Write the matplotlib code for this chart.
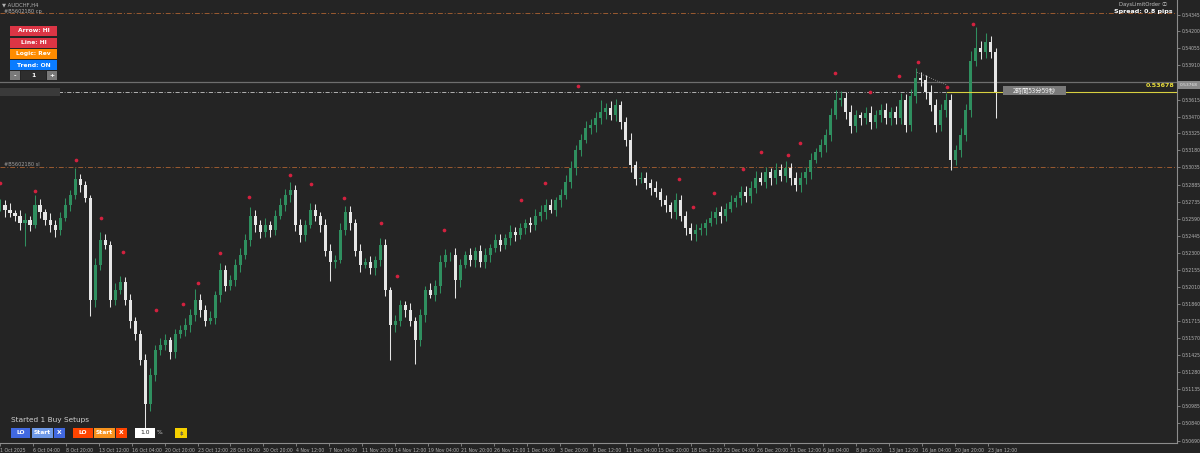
"""
AUDCHF H4 chart with trade panel overlay
"""

import numpy as np
from matplotlib import pyplot as plt
from matplotlib.patches import Rectangle

# closes in pips (price * 10000), one candle per ~2.4 H4 bars
closes = [
    5271, 5267, 5264, 5262, 5256, 5258, 5254, 5271, 5265, 5258, 5254, 5250, 5260, 5271, 5280, 5293, 5288, 5277, 5190, 5220,
    5241, 5237, 5190, 5198, 5205, 5190, 5172, 5160, 5138, 5100, 5125, 5147, 5151, 5155, 5145, 5160, 5164, 5168, 5177, 5190,
    5181, 5172, 5174, 5194, 5215, 5202, 5207, 5220, 5228, 5241, 5262, 5254, 5248, 5254, 5250, 5262, 5271, 5280, 5284, 5254,
    5245, 5254, 5267, 5262, 5254, 5232, 5222, 5224, 5250, 5265, 5256, 5232, 5220, 5222, 5217, 5224, 5237, 5198, 5168, 5172,
    5185, 5181, 5172, 5155, 5177, 5198, 5194, 5202, 5222, 5228, 5228, 5207, 5220, 5228, 5224, 5232, 5222, 5228, 5234, 5241,
    5237, 5243, 5248, 5245, 5251, 5256, 5254, 5262, 5265, 5271, 5267, 5275, 5280, 5291, 5303, 5318, 5327, 5337, 5340, 5346,
    5351, 5354, 5348, 5357, 5342, 5327, 5305, 5293, 5294, 5290, 5286, 5282, 5275, 5271, 5265, 5275, 5262, 5251, 5246, 5250,
    5251, 5256, 5260, 5265, 5262, 5268, 5274, 5277, 5282, 5279, 5286, 5294, 5291, 5299, 5294, 5301, 5296, 5303, 5294, 5288,
    5294, 5299, 5310, 5317, 5323, 5331, 5348, 5361, 5363, 5351, 5339, 5348, 5346, 5350, 5342, 5348, 5353, 5346, 5351, 5346,
    5361, 5340, 5365, 5380, 5378, 5368, 5357, 5340, 5353, 5361, 5310, 5318, 5331, 5353, 5395, 5406, 5402, 5411, 5402, 5368,
]
upper_wick = [
    5, 4, 6, 3, 5, 6, 4, 9, 5, 3, 6, 4, 5, 6, 4, 10, 5, 4, 3, 6,
    7, 5, 3, 6, 5, 4, 5, 3, 4, 5, 6, 4, 6, 5, 3, 5, 4, 6, 5, 9,
    5, 4, 6, 3, 6, 5, 4, 5, 6, 5, 7, 5, 4, 6, 3, 5, 6, 5, 7, 4,
    5, 4, 6, 5, 3, 5, 6, 4, 6, 5, 5, 3, 6, 4, 5, 3, 6, 5, 3, 5,
    5, 4, 6, 3, 5, 4, 6, 5, 6, 5, 3, 6, 5, 4, 6, 3, 5, 6, 4, 5,
    5, 3, 6, 4, 5, 3, 5, 6, 6, 5, 5, 3, 5, 6, 6, 5, 5, 6, 5, 5,
    10, 5, 6, 5, 3, 5, 6, 4, 5, 5, 3, 6, 4, 5, 3, 6, 5, 4, 5, 5,
    5, 3, 6, 4, 5, 5, 6, 3, 5, 5, 6, 6, 5, 5, 4, 6, 5, 6, 4, 5,
    5, 5, 6, 3, 5, 5, 6, 9, 6, 5, 6, 5, 3, 5, 6, 5, 5, 6, 4, 5,
    6, 5, 6, 9, 5, 5, 6, 5, 5, 6, 5, 5, 6, 5, 8, 18, 6, 8, 5, 4,
]
lower_wick = [
    5, 6, 3, 5, 6, 20, 5, 3, 5, 4, 6, 6, 5, 3, 5, 4, 6, 3, 14, 6,
    5, 4, 6, 5, 3, 5, 6, 5, 4, 22, 6, 5, 5, 4, 6, 5, 3, 5, 6, 5,
    6, 5, 3, 5, 6, 5, 4, 5, 6, 3, 5, 6, 5, 4, 6, 5, 3, 5, 6, 5,
    6, 5, 3, 5, 6, 5, 16, 5, 3, 5, 6, 5, 6, 3, 5, 6, 5, 5, 30, 6,
    5, 6, 5, 20, 5, 6, 3, 5, 6, 4, 5, 16, 6, 3, 5, 6, 4, 5, 6, 3,
    5, 4, 6, 5, 3, 5, 6, 4, 5, 6, 3, 5, 6, 4, 5, 6, 5, 3, 5, 6,
    5, 6, 4, 5, 6, 5, 6, 5, 3, 5, 6, 4, 5, 6, 5, 6, 5, 6, 5, 6,
    5, 6, 3, 5, 6, 5, 3, 5, 6, 5, 6, 5, 3, 5, 6, 5, 4, 5, 6, 5,
    6, 5, 6, 3, 5, 6, 5, 3, 5, 6, 6, 5, 6, 5, 6, 5, 6, 5, 6, 5,
    5, 6, 5, 6, 5, 6, 5, 6, 5, 6, 9, 5, 6, 5, 6, 5, 6, 5, 5, 22,
]

# sell arrows (bar index, price)
dot_bars = [0, 17, 37, 49, 60, 76, 89, 96, 107, 121, 141, 151, 167, 185, 193, 216,
            253, 265, 281, 330, 337, 347, 361, 370, 383, 389, 406, 423, 437, 446, 460, 473]
dot_prices = [0.5290, 0.5283, 0.5310, 0.5260, 0.5231, 0.5181, 0.5186, 0.5204, 0.5230, 0.5278,
              0.5297, 0.5289, 0.5277, 0.5256, 0.5210, 0.5250, 0.5275, 0.5290, 0.5373, 0.5293,
              0.5269, 0.5281, 0.5302, 0.5317, 0.5314, 0.5324, 0.5384, 0.5368, 0.5382, 0.5394,
              0.5372, 0.5426]

date_labels = ["1 Oct 2025", "6 Oct 04:00", "8 Oct 20:00", "13 Oct 12:00", "16 Oct 04:00",
               "20 Oct 20:00", "23 Oct 12:00", "28 Oct 04:00", "30 Oct 20:00", "4 Nov 12:00",
               "7 Nov 04:00", "11 Nov 20:00", "14 Nov 12:00", "19 Nov 04:00", "21 Nov 20:00",
               "26 Nov 12:00", "1 Dec 04:00", "3 Dec 20:00", "8 Dec 12:00", "11 Dec 04:00",
               "15 Dec 20:00", "18 Dec 12:00", "23 Dec 04:00", "26 Dec 20:00", "31 Dec 12:00",
               "6 Jan 04:00", "8 Jan 20:00", "13 Jan 12:00", "16 Jan 04:00", "20 Jan 20:00",
               "23 Jan 12:00"]
price_ticks = [0.54345, 0.54200, 0.54055, 0.53910, 0.53615, 0.53470, 0.53325, 0.53180,
               0.53035, 0.52885, 0.52735, 0.52590, 0.52445, 0.52300, 0.52155, 0.52010,
               0.51860, 0.51715, 0.51570, 0.51425, 0.51280, 0.51135, 0.50985, 0.50840,
               0.50690]

cp_level = 0.54358
sl_level = 0.53035
ask_level = 0.53768
bid_level = 0.53678

bg = '#242424'
bull = '#2f8f5f'
bear = '#e6e6e6'
W, H = 1200, 453

fig = plt.figure(figsize=(12, 4.53), dpi=100)
fig.patch.set_facecolor(bg)
ax = fig.add_axes([0, 10 / H, 1177 / W, 443 / H])
ax.set_facecolor(bg)

c = np.array(closes) / 10000
o = np.concatenate([[c[0]], c[:-1]])
hi = np.maximum(o, c) + np.array(upper_wick) / 10000
lo = np.minimum(o, c) - np.array(lower_wick) / 10000
step = 484 / (len(c) - 1)
x = np.arange(len(c)) * step
cols = np.where(c >= o, bull, bear)

ax.vlines(x, lo, hi, colors=cols, lw=0.75, zorder=3)
ax.bar(x, np.maximum(np.abs(c - o), 0.00004), bottom=np.minimum(o, c),
       width=1.5, color=cols, zorder=4, linewidth=0)
ax.scatter(dot_bars, dot_prices, s=7, color='#d3213f', zorder=5, linewidths=0)

# levels
ax.axhline(cp_level, color='#9a5a30', lw=0.7, dashes=(5, 2, 1, 2), zorder=2)
ax.axhline(sl_level, color='#9a5a30', lw=0.7, dashes=(5, 2, 1, 2), zorder=2)
ax.axhline(ask_level, color='#6e6e6e', lw=0.9, zorder=2)
ax.plot([0, 482], [bid_level, bid_level], color='#c8c8c8', lw=0.6, dashes=(5, 2, 1, 2), zorder=2)
ax.plot([460, 572], [bid_level, bid_level], color='#d8d040', lw=0.8, zorder=6)
ax.plot([445.6, 460.2], [0.5385, 0.5374], color='#a0a0a0', lw=0.6, ls=':', zorder=6)

ax.set_xlim(0, 572)
ax.set_ylim(0.50669, 0.5447)
ax.set_xticks([16 * k for k in range(len(date_labels))])
ax.set_xticklabels(date_labels, ha='left')
ax.set_yticks(price_ticks)
ax.set_yticklabels([f'{p:.5f}' for p in price_ticks])
ax.yaxis.tick_right()
ax.tick_params(axis='both', colors='#8c8c8c', labelcolor='#b4b4b4', labelsize=3.3,
               length=2, width=0.6, pad=1.5)
for s in ['left', 'top']:
    ax.spines[s].set_visible(False)
for s in ['right', 'bottom']:
    ax.spines[s].set_color('#8c8c8c')
    ax.spines[s].set_linewidth(0.8)


def box(x0, y0, w, h, color, text='', tc='white', size=4.3, bold=True):
    fig.patches.append(Rectangle((x0 / W, 1 - (y0 + h) / H), w / W, h / H,
                                 transform=fig.transFigure, facecolor=color,
                                 edgecolor='none', zorder=10))
    if text:
        fig.text((x0 + w / 2) / W, 1 - (y0 + h / 2) / H, text, color=tc, fontsize=size,
                 ha='center', va='center', fontweight='bold' if bold else 'normal', zorder=11)


# price box on the axis
box(1178, 81, 22, 8, '#8a8a8a', '0.53768', tc='#e8e8e8', size=3.2, bold=False)
fig.text(1174 / W, 1 - 88 / H, '0.53678', color='#e8dc3c', fontsize=4.6, fontweight='bold',
         ha='right', va='bottom')
# countdown label
box(1003, 86, 63, 9, '#7a7a7a')
fig.text(1034 / W, 1 - 90.5 / H, '2時間53分59秒', color='#eeeeee', fontsize=4.6,
         ha='center', va='center', family=['Noto Sans CJK JP', 'DejaVu Sans'], zorder=11)
box(0, 88, 60, 8, '#3a3a3a')

# top texts
fig.text(2 / W, 1 - 5 / H, '▼ AUDCHF,H4', color='#b0b0b0', fontsize=3.8, va='center')
fig.text(4 / W, 1 - 11 / H, '#B5602180 cp', color='#b0b0b0', fontsize=3.6, va='center')
fig.text(4 / W, 1 - 164 / H, '#B5602180 sl', color='#a0a0a0', fontsize=3.6, va='center')
fig.text(1167 / W, 1 - 4.5 / H, 'DaysLimitOrder ⓘ', color='#c0c0c0', fontsize=3.8,
         ha='right', va='center', family=['DejaVu Sans', 'Noto Sans CJK JP'])
fig.text(1173 / W, 1 - 12 / H, 'Spread: 0.8 pips', color='white', fontsize=4.6,
         fontweight='bold', ha='right', va='center')

# panel buttons
box(10, 26, 47, 10, '#dc3545', 'Arrow: HI')
box(10, 38, 47, 10, '#dc3545', 'Line: HI')
box(10, 49, 47, 10, '#ff8c00', 'Logic: Rev')
box(10, 60, 47, 10, '#0a7cff', 'Trend: ON')
box(10, 71, 10, 9, '#7a7a7a', '-')
box(21, 71, 25, 9, '#2e2e2e', '1')
box(47, 71, 10, 9, '#7a7a7a', '+')

fig.text(11 / W, 1 - 420 / H, 'Started 1 Buy Setups', color='#d0d0d0', fontsize=5.3, va='center')
box(11, 428, 19, 10, '#4169e1', 'LO')
box(32, 428, 21, 10, '#6f9ae8', 'Start')
box(54, 428, 11, 10, '#4169e1', 'X')
box(73, 428, 20, 10, '#ff4500', 'LO')
box(94, 428, 21, 10, '#f7931e', 'Start')
box(116, 428, 11, 10, '#ff4500', 'X')
box(135, 428, 20, 10, 'white', '1.0', tc='#222222', bold=False)
fig.text(157 / W, 1 - 433 / H, '%', color='#d0d0d0', fontsize=4.3, va='center')
box(175, 428, 12, 10, '#f5d000', '$', tc='#555555', size=3.8)

fig.savefig('out.png', dpi=100, facecolor=bg)
